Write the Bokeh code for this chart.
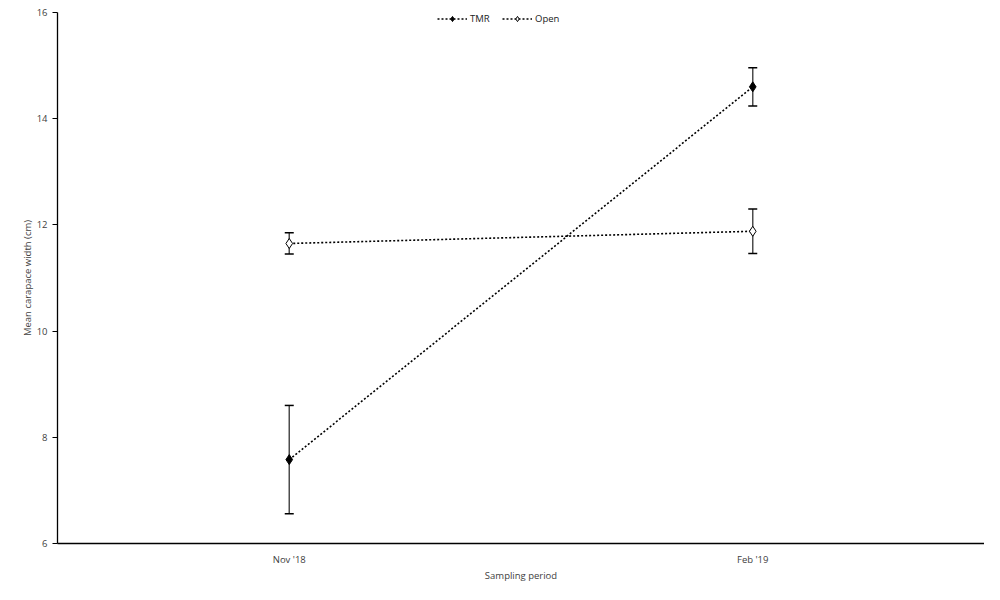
from bokeh.plotting import figure
from bokeh.models import ColumnDataSource, Whisker, TeeHead, Legend, LegendItem, FixedTicker, FactorRange, Range1d
from bokeh.embed import file_html
from bokeh.resources import INLINE

periods = ["Nov '18", "Feb '19"]
tmr_mean = [7.58, 14.60]
tmr_err = [1.02, 0.36]
open_mean = [11.65, 11.88]
open_err = [0.20, 0.42]
y_ticks = [6, 8, 10, 12, 14, 16]

FONT = "Open Sans"

p = figure(width=984, height=584, x_range=FactorRange(*periods, range_padding=0),
           y_range=Range1d(6, 16), output_backend="svg", toolbar_location=None,
           min_border_left=57, min_border_right=0, min_border_top=12, min_border_bottom=41)
p.outline_line_color = None
p.grid.visible = False
p.background_fill_color = "white"
p.border_fill_color = "white"

tmr_src = ColumnDataSource(dict(x=periods, y=tmr_mean,
                                lo=[m - e for m, e in zip(tmr_mean, tmr_err)],
                                hi=[m + e for m, e in zip(tmr_mean, tmr_err)]))
open_src = ColumnDataSource(dict(x=periods, y=open_mean,
                                 lo=[m - e for m, e in zip(open_mean, open_err)],
                                 hi=[m + e for m, e in zip(open_mean, open_err)]))

for src in (tmr_src, open_src):
    w = Whisker(source=src, base="x", lower="lo", upper="hi", line_color="#4d4d4d", line_width=1.5,
                upper_head=TeeHead(size=9, line_color="black", line_width=1.5),
                lower_head=TeeHead(size=9, line_color="black", line_width=1.5))
    p.add_layout(w)

l1 = p.line("x", "y", source=tmr_src, line_color="black", line_width=1.6, line_dash="2 2")
m1 = p.scatter("x", "y", source=tmr_src, marker="diamond", size=10, fill_color="black", line_color="black")
l2 = p.line("x", "y", source=open_src, line_color="black", line_width=1.6, line_dash="2 2")
m2 = p.scatter("x", "y", source=open_src, marker="diamond", size=10, fill_color="white", line_color="black")

legend = Legend(items=[LegendItem(label="TMR", renderers=[l1, m1]),
                       LegendItem(label="Open", renderers=[l2, m2])],
                location=(380, 518), orientation="horizontal",
                border_line_color=None, background_fill_alpha=0,
                label_text_font=FONT, label_text_font_size="9.5px", label_text_color="#222222",
                glyph_width=30, glyph_height=13, label_height=13,
                spacing=12, padding=0, margin=0, label_standoff=3)
p.add_layout(legend)

p.yaxis.ticker = FixedTicker(ticks=y_ticks)
p.yaxis.axis_label = "Mean carapace width (cm)"
p.xaxis.axis_label = "Sampling period"
for ax in (p.xaxis, p.yaxis):
    ax.axis_line_color = "black"
    ax.axis_line_width = 1.3
    ax.major_label_text_font = FONT
    ax.major_label_text_font_size = "9.5px"
    ax.major_label_text_color = "#404040"
    ax.axis_label_text_font = FONT
    ax.axis_label_text_font_size = "9.5px"
    ax.axis_label_text_font_style = "normal"
    ax.axis_label_text_color = "#404040"
    ax.minor_tick_line_color = None
p.yaxis.major_tick_in = 0
p.yaxis.major_tick_out = 5
p.yaxis.major_tick_line_color = "black"
p.yaxis.major_label_standoff = 5
p.yaxis.axis_label_standoff = 0
p.xaxis.major_tick_line_color = None
p.xaxis.major_tick_in = 0
p.xaxis.major_tick_out = 0
p.xaxis.major_label_standoff = 9
p.xaxis.axis_label_standoff = 0

open("out.html", "w").write(file_html(p, INLINE))
